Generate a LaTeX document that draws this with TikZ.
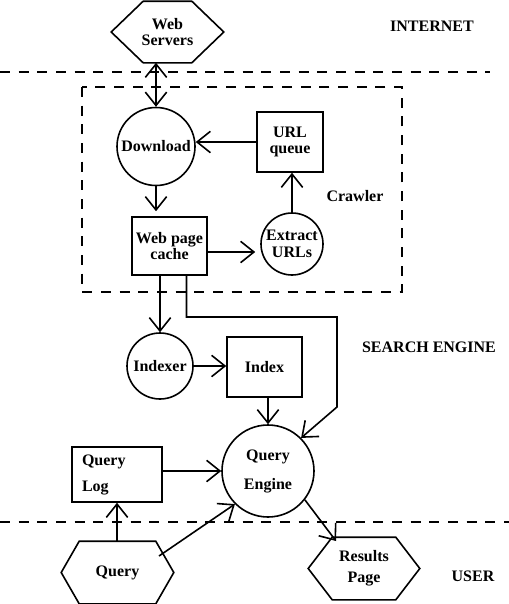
\documentclass[tikz,border=0pt]{standalone}
\usepackage{fontspec}
\setmainfont{Liberation Serif}
\usetikzlibrary{arrows.meta}
\newcommand\drawhex[2]{\draw (#1.west) -- ([xshift=#2]#1.north west) -- ([xshift=-#2]#1.north east) -- (#1.east) -- ([xshift=-#2]#1.south east) -- ([xshift=#2]#1.south west) -- cycle;}
\begin{document}
\begin{tikzpicture}[x=0.75pt,y=-0.75pt,
  line width=1.2pt,
  every node/.style={font=\bfseries\fontsize{12}{12.5}\selectfont, inner sep=0pt, align=center},
  box/.style={draw, rectangle},
  circ/.style={draw, circle},
  hexa/.style={rectangle},
  arr/.style={-{Straight Barb[length=10pt,width=16pt]}},
  darr/.style={{Straight Barb[length=10pt,width=16pt]}-{Straight Barb[length=10pt,width=16pt]}},
  sep/.style={dash pattern=on 7.5pt off 6.5pt, line width=1.1pt},
  lbl/.style={anchor=center}]
\useasboundingbox (0,0) rectangle (509,604);
\fill[white] (0,0) rectangle (509,604);

% separators and crawler box
\coordinate (s1a) at (0,72); \coordinate (s1b) at (490,72);
\coordinate (s2a) at (0,522); \coordinate (s2b) at (509,522);
\draw[sep] (s1a) -- (s1b);
\draw[sep] (s2a) -- (s2b);
\coordinate (cra) at (82,87); \coordinate (crb) at (402,292);
\draw[sep] (cra) rectangle (crb);

% labels
\node[lbl] (linternet) at (432,26) {INTERNET};
\node[lbl] (lcrawler) at (355,196) {Crawler};
\node[lbl] (lsearch) at (429,347) {SEARCH ENGINE};
\node[lbl] (luser) at (473,576) {USER};

% nodes
\node[hexa, minimum width=83.25pt, minimum height=45pt] (ws) at (167.5,32) {Web\\Servers};
\drawhex{ws}{24pt}
\node[circ, minimum size=58.5pt] (dl) at (156,146.5) {Download};
\node[box, minimum width=49.5pt, minimum height=45pt] (urlq) at (290,142) {URL\\queue};
\node[box, minimum width=56.25pt, minimum height=43.5pt] (cache) at (169.5,246) {Web page\\cache};
\node[circ, minimum size=46.5pt] (ext) at (292,244) {Extract\\URLs};
\node[circ, minimum size=49.5pt] (idx) at (160,366) {Indexer};
\node[box, minimum width=56.25pt, minimum height=45pt] (index) at (264.5,367) {Index};
\node[circ, minimum size=69pt, font=\bfseries\fontsize{12}{21.75}\selectfont] (qe) at (268,471) {Query\\Engine};
\node[box, minimum width=67.5pt, minimum height=41.25pt, text width=52.5pt, align=left, font=\bfseries\fontsize{12}{19.5}\selectfont] (qlog) at (117,474.5) {Query\\Log};
\node[hexa, minimum width=83.25pt, minimum height=45.75pt] (qhex) at (117.5,572.5) {Query};
\drawhex{qhex}{13.5pt}
\node[hexa, minimum width=82.5pt, minimum height=45.75pt, font=\bfseries\fontsize{12}{15.75}\selectfont] (rhex) at (364,568.5) {Results\\Page};
\drawhex{rhex}{18pt}

% connectors
\draw[darr] (ws.south -| dl.north) -- (dl.north);
\draw[arr] (urlq.west) -- (urlq.west -| dl.east);
\draw[arr] (dl.south) -- ([yshift=3.75pt]cache.north -| dl.south);
\draw[arr] ([yshift=-4.5pt]cache.east) -- ([yshift=-4.5pt,xshift=-3.75pt]cache.east -| ext.west);
\draw[arr] (ext.north) -- (ext.north |- urlq.south);
\draw[arr] (cache.south -| idx.north) -- (idx.north);
\coordinate (b1) at (337,317);
\coordinate (b2) at (337,407);
\draw[arr] ([xshift=12.75pt]cache.south) |- (b1) -- (b2) -- (qe.45);
\draw[arr] (idx.east) -- (idx.east -| index.west);
\draw[arr] (index.south -| qe.north) -- (qe.north);
\draw[arr] (qlog.east |- qe.west) -- (qe.west);
\draw[arr] (qhex.north -| qlog.south) -- (qlog.south);
\coordinate (qstart) at (159,556);
\draw[arr] (qstart) -- (qe.225);
\coordinate (rtip) at (336,541);
\draw[arr] (qe.-38) -- (rtip);
\end{tikzpicture}
\end{document}
